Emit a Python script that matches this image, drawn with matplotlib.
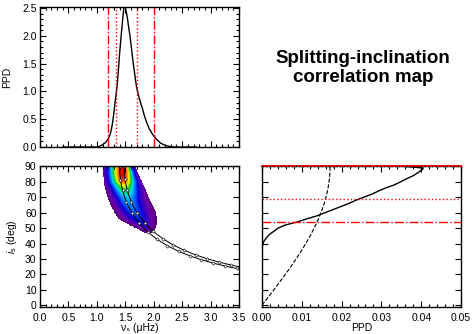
import numpy as np
import matplotlib
matplotlib.use("Agg")
import matplotlib.pyplot as plt
from matplotlib.colors import LinearSegmentedColormap
from matplotlib.ticker import MultipleLocator, FormatStrFormatter

plt.rcParams['font.family'] = ['Liberation Sans', 'DejaVu Sans']
plt.rcParams['mathtext.fontset'] = 'custom'
plt.rcParams['mathtext.rm'] = 'Liberation Sans'
plt.rcParams['mathtext.it'] = 'Liberation Sans:italic'

# ---------------- data ----------------
# top panel: PPD of splitting nu_s (muHz)
nu_bins = [0.40, 1.00, 1.02, 1.04, 1.06, 1.08, 1.10, 1.12, 1.14, 1.16, 1.18, 1.20,
           1.22, 1.24, 1.26, 1.28, 1.30, 1.32, 1.34, 1.36, 1.38, 1.40, 1.42,
           1.44, 1.46, 1.48, 1.50, 1.52, 1.54, 1.56, 1.58, 1.60, 1.62, 1.64,
           1.66, 1.68, 1.70, 1.72, 1.74, 1.76, 1.78, 1.80, 1.82, 1.84, 1.86,
           1.88, 1.90, 1.92, 1.94, 1.96, 1.98, 2.00, 2.02, 2.04, 2.06, 2.08,
           2.10, 2.12, 2.14, 2.16, 2.18, 2.20, 2.24, 2.28, 2.32, 2.36, 2.75]
nu_ppd = [0.00, 0.00, 0.005, 0.01, 0.02, 0.03, 0.04, 0.06, 0.07, 0.09, 0.12, 0.15,
          0.19, 0.25, 0.34, 0.46, 0.62, 0.80, 0.96, 1.14, 1.40, 1.68, 1.92,
          2.14, 2.36, 2.56, 2.52, 2.42, 2.30, 2.15, 2.02, 1.85, 1.68, 1.50,
          1.36, 1.20, 1.07, 0.98, 0.90, 0.83, 0.76, 0.70, 0.62, 0.55, 0.49,
          0.43, 0.38, 0.33, 0.30, 0.26, 0.23, 0.20, 0.18, 0.15, 0.13, 0.11,
          0.09, 0.07, 0.06, 0.05, 0.04, 0.03, 0.02, 0.01, 0.005, 0.0, 0.0]
nu_ci68 = [1.34, 1.70]
nu_ci95 = [1.19, 2.00]

# right panel: PPD of inclination i_s (deg)
inc_bins = [0, 37, 38, 40, 42, 44, 46, 48, 50, 52, 54, 56, 58, 60, 62, 64, 66, 68,
            70, 72, 74, 76, 78, 80, 82, 84, 86, 88, 89, 90]
inc_ppd = [0.0, 0.0, 0.0001, 0.0002, 0.0006, 0.0012, 0.0019, 0.0030, 0.0040, 0.0058,
           0.0088, 0.0112, 0.0138, 0.0158, 0.0178, 0.0198, 0.0218, 0.0235,
           0.0255, 0.0276, 0.0292, 0.0310, 0.0332, 0.0348, 0.0363, 0.0380,
           0.0392, 0.0403, 0.0405, 0.0360]
inc_prior_peak = 0.0171
inc_ci68 = [68.7, 90.0]
inc_ci95 = [54.3, 90.0]

# correlation map outline (per inclination row)
map_inc   = [47.0, 49.0, 52.0, 56.0, 60.0, 65.0, 70.0, 72.0, 75.0, 78.0, 80.0, 82.0, 85.0, 90.0]
map_left  = [1.84, 1.74, 1.58, 1.38, 1.31, 1.24, 1.19, 1.17, 1.15, 1.13, 1.12, 1.12, 1.11, 1.10]
map_right = [1.97, 2.02, 2.05, 2.06, 2.04, 1.98, 1.91, 1.89, 1.86, 1.82, 1.80, 1.77, 1.73, 1.68]
map_core  = [1.91, 1.88, 1.82, 1.74, 1.66, 1.58, 1.53, 1.52, 1.50, 1.48, 1.47, 1.46, 1.46, 1.46]
map_peak  = [0.08, 0.14, 0.22, 0.30, 0.35, 0.40, 0.47, 0.53, 0.63, 0.76, 0.88, 0.95, 1.00, 1.00]

# constant nu_s * sin(i_s) relation (two bounding curves)
vsini_consts = [1.40, 1.48]

# ---------------- figure ----------------
fig = plt.figure(figsize=(4.73, 3.34), dpi=100)
W, H = 473.0, 334.0
def box(x0, y0, x1, y1):
    return [x0 / W, 1 - y1 / H, (x1 - x0) / W, (y1 - y0) / H]

ax_top = fig.add_axes(box(40, 7, 239, 147))
ax_map = fig.add_axes(box(40, 166, 239, 307))
ax_inc = fig.add_axes(box(262, 166, 461, 307))

fs = 7.5
def style(ax):
    ax.tick_params(which='both', direction='in', top=True, right=True,
                   labelsize=fs, width=0.8)
    ax.tick_params(axis='x', which='both', pad=4.0)
    ax.tick_params(axis='y', which='both', pad=2.5)
    ax.tick_params(which='major', length=4)
    ax.tick_params(which='minor', length=2)
    for s in ax.spines.values():
        s.set_linewidth(1.0)

# top panel
ax_top.plot(nu_bins, nu_ppd, color='k', lw=1.0)
for v in nu_ci95:
    ax_top.axvline(v, color='red', ls='-.', lw=1.0)
for v in nu_ci68:
    ax_top.axvline(v, color='red', ls=':', lw=1.0)
ax_top.set_xlim(0, 3.5)
ax_top.set_ylim(0, 2.52)
ax_top.xaxis.set_major_locator(MultipleLocator(0.5))
ax_top.xaxis.set_minor_locator(MultipleLocator(0.1))
ax_top.yaxis.set_major_locator(MultipleLocator(0.5))
ax_top.yaxis.set_minor_locator(MultipleLocator(0.1))
ax_top.yaxis.set_major_formatter(FormatStrFormatter('%.1f'))
ax_top.set_xticklabels([])
ax_top.set_ylabel('PPD', fontsize=fs, labelpad=7)
style(ax_top)

# correlation map
cmap = LinearSegmentedColormap.from_list('idl', [
    (0.00, (0.30, 0.00, 0.40)),
    (0.10, (0.42, 0.00, 0.65)),
    (0.26, (0.05, 0.00, 0.85)),
    (0.38, (0.00, 0.45, 1.00)),
    (0.50, (0.00, 0.85, 0.90)),
    (0.60, (0.00, 0.80, 0.25)),
    (0.68, (0.55, 0.90, 0.00)),
    (0.75, (1.00, 0.95, 0.00)),
    (0.86, (1.00, 0.50, 0.00)),
    (1.00, (0.88, 0.00, 0.00))])
gx = np.linspace(1.0, 2.2, 240)
gy = np.linspace(46, 90, 176)
L = np.interp(gy, map_inc, map_left)[:, None]
R = np.interp(gy, map_inc, map_right)[:, None]
C = np.interp(gy, map_inc, map_core)[:, None]
P = np.interp(gy, map_inc, map_peak)[:, None]
X = gx[None, :]
u = np.where(X < C, (C - X) / np.maximum(C - L, 1e-3), (X - C) / np.maximum(R - C, 1e-3))
val = P * np.exp(-2.2 * u ** 2)
val = np.ma.masked_where((u > 1) | (gy[:, None] < 47), val)
ax_map.pcolormesh(gx, gy, val, cmap=cmap, vmin=0, vmax=1, shading='nearest', rasterized=True)

for c in vsini_consts:
    nu = np.linspace(c, 3.5, 400)
    inc = np.degrees(np.arcsin(np.clip(c / nu, -1, 1)))
    ax_map.plot(nu, inc, color='k', lw=0.7, marker='D', ms=1.7, mfc='white',
                mec='k', mew=0.4, markevery=0.05)
ax_map.set_xlim(0, 3.5)
ax_map.set_ylim(-1.1, 90.3)
ax_map.xaxis.set_major_locator(MultipleLocator(0.5))
ax_map.xaxis.set_minor_locator(MultipleLocator(0.1))
ax_map.yaxis.set_major_locator(MultipleLocator(10))
ax_map.xaxis.set_major_formatter(FormatStrFormatter('%.1f'))
ax_map.set_xlabel('\u03bd\u209b (\u03bcHz)', fontsize=7.5)
ax_map.xaxis.set_label_coords(0.5, -0.150)
ax_map.xaxis.label.set_va('center')
ax_map.set_ylabel(r'$i_{\rm s}$ (deg)', fontsize=fs, labelpad=4)
style(ax_map)

# inclination PPD
ax_inc.plot(inc_ppd, inc_bins, color='k', lw=1.0)
ii = np.linspace(0, 90, 200)
ax_inc.plot(inc_prior_peak * np.sin(np.radians(ii)), ii, color='k', ls='--', lw=0.8)
ax_inc.axhline(inc_ci95[0], color='red', ls='-.', lw=1.0)
ax_inc.axhline(inc_ci68[0], color='red', ls=':', lw=1.0)
ax_inc.axhline(inc_ci95[1], color='red', ls='-', lw=1.4, clip_on=False, zorder=5)
ax_inc.axhline(inc_ci68[1], color='k', ls=':', lw=1.0, clip_on=False, zorder=6)
ax_inc.set_xlim(0, 0.05)
ax_inc.set_ylim(-1.1, 90.3)
ax_inc.xaxis.set_major_locator(MultipleLocator(0.01))
ax_inc.xaxis.set_minor_locator(MultipleLocator(0.002))
ax_inc.yaxis.set_major_locator(MultipleLocator(10))
ax_inc.xaxis.set_major_formatter(FormatStrFormatter('%.2f'))
ax_inc.set_yticklabels([])
ax_inc.set_xlabel('PPD', fontsize=7.5)
ax_inc.xaxis.set_label_coords(0.5, -0.150)
ax_inc.xaxis.label.set_va('center')
style(ax_inc)

fig.text(0.768, 0.795, 'Splitting-inclination\ncorrelation map', ha='center', va='center',
         fontsize=13.5, fontweight='bold', linespacing=1.15)

fig.savefig('out.png', dpi=100)
